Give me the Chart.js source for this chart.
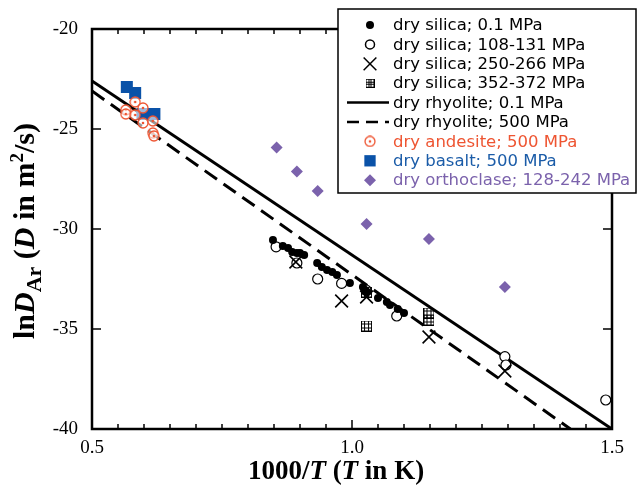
<!DOCTYPE html>
<html>
<head>
<meta charset="utf-8">
<script src="https://cdn.jsdelivr.net/npm/chart.js@4.4.0/dist/chart.umd.min.js"></script>
<style>
  html, body { margin: 0; padding: 0; background: #fff; }
</style>
</head>
<body>
<canvas id="myChart" width="637" height="492"></canvas>
<script>
'use strict';

// argon diffusivity, x = 1000/T, y = ln D
let silicaAtm = [[0.848, -30.55], [0.867, -30.85], [0.877, -30.95], [0.885, -31.15], [0.894, -31.2], [0.9, -31.2],
  [0.908, -31.3], [0.933, -31.7], [0.942, -31.9], [0.952, -32.05], [0.962, -32.15], [0.971, -32.3], [0.996, -32.7],
  [1.021, -32.9], [1.025, -33.05], [1.029, -33.15], [1.05, -33.45], [1.067, -33.65], [1.073, -33.8], [1.088, -34.0],
  [1.1, -34.2]];
let silica120 = [[0.854, -30.89], [0.894, -31.7], [0.934, -32.5], [0.98, -32.72], [1.027, -33.05], [1.086, -34.35],
  [1.294, -36.38], [1.296, -36.8], [1.488, -38.55]];
let silica260 = [[0.892, -31.65], [0.98, -33.6], [1.028, -33.4], [1.148, -35.4], [1.294, -37.1]];
let silica360 = [[1.028, -33.15], [1.028, -34.85], [1.148, -34.2], [1.148, -34.55]];
let rhyoliteAtm = [[0.5, -22.6], [1.5, -40]];
let rhyolite500 = [[0.5, -23.1], [1.42, -40]];
let andesite = [[0.565, -24.05], [0.583, -23.65], [0.598, -23.95], [0.565, -24.25], [0.583, -24.3], [0.598, -24.7],
  [0.617, -24.6], [0.617, -25.2], [0.619, -25.35]];
let basalt = [[0.567, -22.9], [0.583, -23.2], [0.597, -24.25], [0.608, -24.25], [0.62, -24.25]];
let orthoclase = [[0.855, -25.92], [0.894, -27.13], [0.934, -28.1], [1.028, -29.75], [1.148, -30.5], [1.294, -32.9]];

let xTicks = [0.5, 1, 1.5];
let yTicks = [-40, -35, -30, -25, -20];

let red = '#ee5532';
let blue = '#0a52a8';
let purple = '#7b62ac';

function hatchBox(size) {
  let c = document.createElement('canvas');
  c.width = size;
  c.height = size;
  let g = c.getContext('2d');
  g.strokeStyle = '#000';
  g.lineWidth = 1;
  g.strokeRect(0.5, 0.5, size - 1, size - 1);
  for (let k = 1; k < 3; k++) {
    let p = Math.round(k * (size - 1) / 3) + 0.5;
    g.beginPath();
    g.moveTo(p, 0); g.lineTo(p, size);
    g.moveTo(0, p); g.lineTo(size, p);
    g.stroke();
  }
  return c;
}

function dotRing(size, color) {
  let c = document.createElement('canvas');
  c.width = size;
  c.height = size;
  let g = c.getContext('2d');
  g.strokeStyle = color;
  g.fillStyle = 'rgba(255,255,255,0.6)';
  g.lineWidth = 1.3;
  g.beginPath();
  g.arc(size / 2, size / 2, size / 2 - 1, 0, Math.PI * 2);
  g.fill();
  g.stroke();
  g.fillStyle = color;
  g.beginPath();
  g.arc(size / 2, size / 2, 1.3, 0, Math.PI * 2);
  g.fill();
  return c;
}

let hatchImg = hatchBox(11);
let ringImg = dotRing(12, red);

function pts(arr) {
  return arr.map(p => ({ x: p[0], y: p[1] }));
}

let datasets = [
  { label: 'dry silica; 0.1 MPa', data: pts(silicaAtm), pointStyle: 'circle', pointRadius: 4,
    backgroundColor: '#000', borderColor: '#000', borderWidth: 0, order: 1 },
  { label: 'dry silica; 108-131 MPa', data: pts(silica120), pointStyle: 'circle', pointRadius: 5,
    backgroundColor: '#fff', borderColor: '#000', borderWidth: 1.2, order: 2 },
  { label: 'dry silica; 250-266 MPa', data: pts(silica260), pointStyle: 'crossRot', pointRadius: 9,
    backgroundColor: '#000', borderColor: '#000', borderWidth: 1.6, order: 1 },
  { label: 'dry silica; 352-372 MPa', data: pts(silica360), pointStyle: hatchImg, pointRadius: 6,
    backgroundColor: '#fff', borderColor: '#000', order: 1 },
  { type: 'line', label: 'dry rhyolite; 0.1 MPa', data: pts(rhyoliteAtm), borderColor: '#000', borderWidth: 3,
    pointRadius: 0, fill: false, order: 10 },
  { type: 'line', label: 'dry rhyolite; 500 MPa', data: pts(rhyolite500), borderColor: '#000', borderWidth: 3,
    borderDash: [15, 8], pointRadius: 0, fill: false, order: 10 },
  { label: 'dry andesite; 500 MPa', data: pts(andesite), pointStyle: ringImg, pointRadius: 6,
    backgroundColor: red, borderColor: red, order: 2 },
  { label: 'dry basalt; 500 MPa', data: pts(basalt), pointStyle: 'rect', pointRadius: 8.5,
    backgroundColor: blue, borderColor: blue, borderWidth: 0, order: 3 },
  { label: 'dry orthoclase; 128-242 MPa', data: pts(orthoclase), pointStyle: 'rectRot', pointRadius: 6,
    backgroundColor: purple, borderColor: purple, borderWidth: 0, order: 1 }
];

let legendItems = [
  { text: 'dry silica; 0.1 MPa', color: '#000', style: 'circle', radius: 4 },
  { text: 'dry silica; 108-131 MPa', color: '#000', style: 'circle', radius: 4.5, open: true },
  { text: 'dry silica; 250-266 MPa', color: '#000', style: 'crossRot', radius: 9 },
  { text: 'dry silica; 352-372 MPa', color: '#000', style: hatchBox(9), radius: 5 },
  { text: 'dry rhyolite; 0.1 MPa', color: '#000', line: [] },
  { text: 'dry rhyolite; 500 MPa', color: '#000', line: [12, 7] },
  { text: 'dry andesite; 500 MPa', color: red, style: ringImg, radius: 6 },
  { text: 'dry basalt; 500 MPa', color: '#1b5ca8', style: 'rect', radius: 8, fill: blue },
  { text: 'dry orthoclase; 128-242 MPa', color: purple, style: 'rectRot', radius: 6 }
];

function richText(ctx, parts, x, y) {
  let total = 0;
  parts.forEach(p => { ctx.font = p.font; p.w = ctx.measureText(p.t).width; total += p.w; });
  let cx = x - total / 2;
  parts.forEach(p => {
    ctx.font = p.font;
    ctx.fillText(p.t, cx, y + (p.dy || 0));
    cx += p.w;
  });
}

// box around the plot plus inward tick marks on all four sides
function drawFrame(chart) {
  let ctx = chart.ctx;
  let a = chart.chartArea;
  let xs = chart.scales.x;
  let ys = chart.scales.y;
  ctx.save();
  ctx.setLineDash([]);
  ctx.strokeStyle = '#000';
  ctx.lineWidth = 1.5;
  for (let i = 0; i <= 20; i++) {
    let px = Math.round(xs.getPixelForValue(0.5 + i * 0.05));
    let len = (i % 10 === 0) ? 9 : 5;
    ctx.beginPath();
    ctx.moveTo(px, a.bottom);
    ctx.lineTo(px, a.bottom - len);
    ctx.moveTo(px, a.top);
    ctx.lineTo(px, a.top + len);
    ctx.stroke();
  }
  yTicks.forEach(v => {
    let py = Math.round(ys.getPixelForValue(v));
    ctx.beginPath();
    ctx.moveTo(a.left, py);
    ctx.lineTo(a.left + 9, py);
    ctx.moveTo(a.right, py);
    ctx.lineTo(a.right - 9, py);
    ctx.stroke();
  });
  ctx.lineWidth = 2.5;
  ctx.strokeRect(a.left, a.top, a.right - a.left, a.bottom - a.top);
  ctx.restore();
}

let frame = {
  id: 'frame',
  afterDraw(chart) {
    drawFrame(chart);

    let ctx = chart.ctx;
    ctx.save();
    ctx.fillStyle = '#000';
    ctx.textBaseline = 'alphabetic';
    let serif = '"Liberation Serif", "Times New Roman", serif';

    // axis titles
    richText(ctx, [
      { t: '1000/', font: 'bold 27px ' + serif },
      { t: 'T', font: 'italic bold 27px ' + serif },
      { t: ' (', font: 'bold 27px ' + serif },
      { t: 'T', font: 'italic bold 27px ' + serif },
      { t: ' in K)', font: 'bold 27px ' + serif }
    ], 336, 479);

    ctx.save();
    ctx.translate(34, 231);
    ctx.rotate(-Math.PI / 2);
    richText(ctx, [
      { t: 'ln', font: 'bold 30px ' + serif },
      { t: 'D', font: 'italic bold 30px ' + serif },
      { t: 'Ar', font: 'bold 22px ' + serif, dy: 7 },
      { t: ' (', font: 'bold 30px ' + serif },
      { t: 'D', font: 'italic bold 30px ' + serif },
      { t: ' in m', font: 'bold 30px ' + serif },
      { t: '2', font: 'bold 19px ' + serif, dy: -11 },
      { t: '/s)', font: 'bold 30px ' + serif }
    ], 0, 0);
    ctx.restore();

    // legend box
    let bx = 338, by = 9, bw = 298, bh = 184;
    ctx.fillStyle = '#fff';
    ctx.fillRect(bx, by, bw, bh);
    ctx.strokeStyle = '#000';
    ctx.lineWidth = 1.5;
    ctx.strokeRect(bx, by, bw, bh);

    ctx.font = '16.5px "DejaVu Sans", sans-serif';
    ctx.textBaseline = 'middle';
    legendItems.forEach((it, i) => {
      let y = 25 + i * 19.4;
      if (it.line) {
        ctx.strokeStyle = it.color;
        ctx.lineWidth = 2.5;
        ctx.setLineDash(it.line);
        ctx.beginPath();
        ctx.moveTo(347, y);
        ctx.lineTo(389, y);
        ctx.stroke();
        ctx.setLineDash([]);
      } else {
        ctx.fillStyle = it.open ? '#fff' : (it.fill || it.color);
        ctx.strokeStyle = it.fill || it.color;
        Chart.helpers.drawPoint(ctx, {
          pointStyle: it.style, radius: it.radius, rotation: 0,
          borderWidth: (it.open || it.style === 'crossRot') ? 1.6 : 0
        }, 370, y);
      }
      ctx.fillStyle = it.color;
      ctx.fillText(it.text, 393, y + 1);
    });
    ctx.restore();
  }
};

let ctx = document.getElementById('myChart').getContext('2d');
let myChart = new Chart(ctx, {
  type: 'scatter',
  data: { datasets: datasets },
  options: {
    responsive: false,
    animation: false,
    layout: { padding: { top: 29, right: 25, left: 0, bottom: 0 } },
    plugins: { legend: { display: false }, tooltip: { enabled: false } },
    elements: { line: { tension: 0 } },
    scales: {
      x: {
        type: 'linear', min: 0.5, max: 1.5,
        grid: { display: false, drawTicks: false },
        border: { display: false },
        afterBuildTicks: s => { s.ticks = xTicks.map(v => ({ value: v })); },
        ticks: { color: '#000', padding: 8, maxRotation: 0, font: { family: 'Liberation Serif', size: 19 } },
        afterFit: s => { s.height = 63; s.paddingLeft = 0; s.paddingRight = 0; }
      },
      y: {
        type: 'linear', min: -40, max: -20,
        grid: { display: false, drawTicks: false },
        border: { display: false },
        afterBuildTicks: s => { s.ticks = yTicks.map(v => ({ value: v })); },
        ticks: { color: '#000', padding: 14, font: { family: 'Liberation Serif', size: 19 } },
        afterFit: s => { s.width = 92; s.paddingTop = 0; s.paddingBottom = 0; }
      }
    }
  },
  plugins: [frame]
});
</script>
</body>
</html>
